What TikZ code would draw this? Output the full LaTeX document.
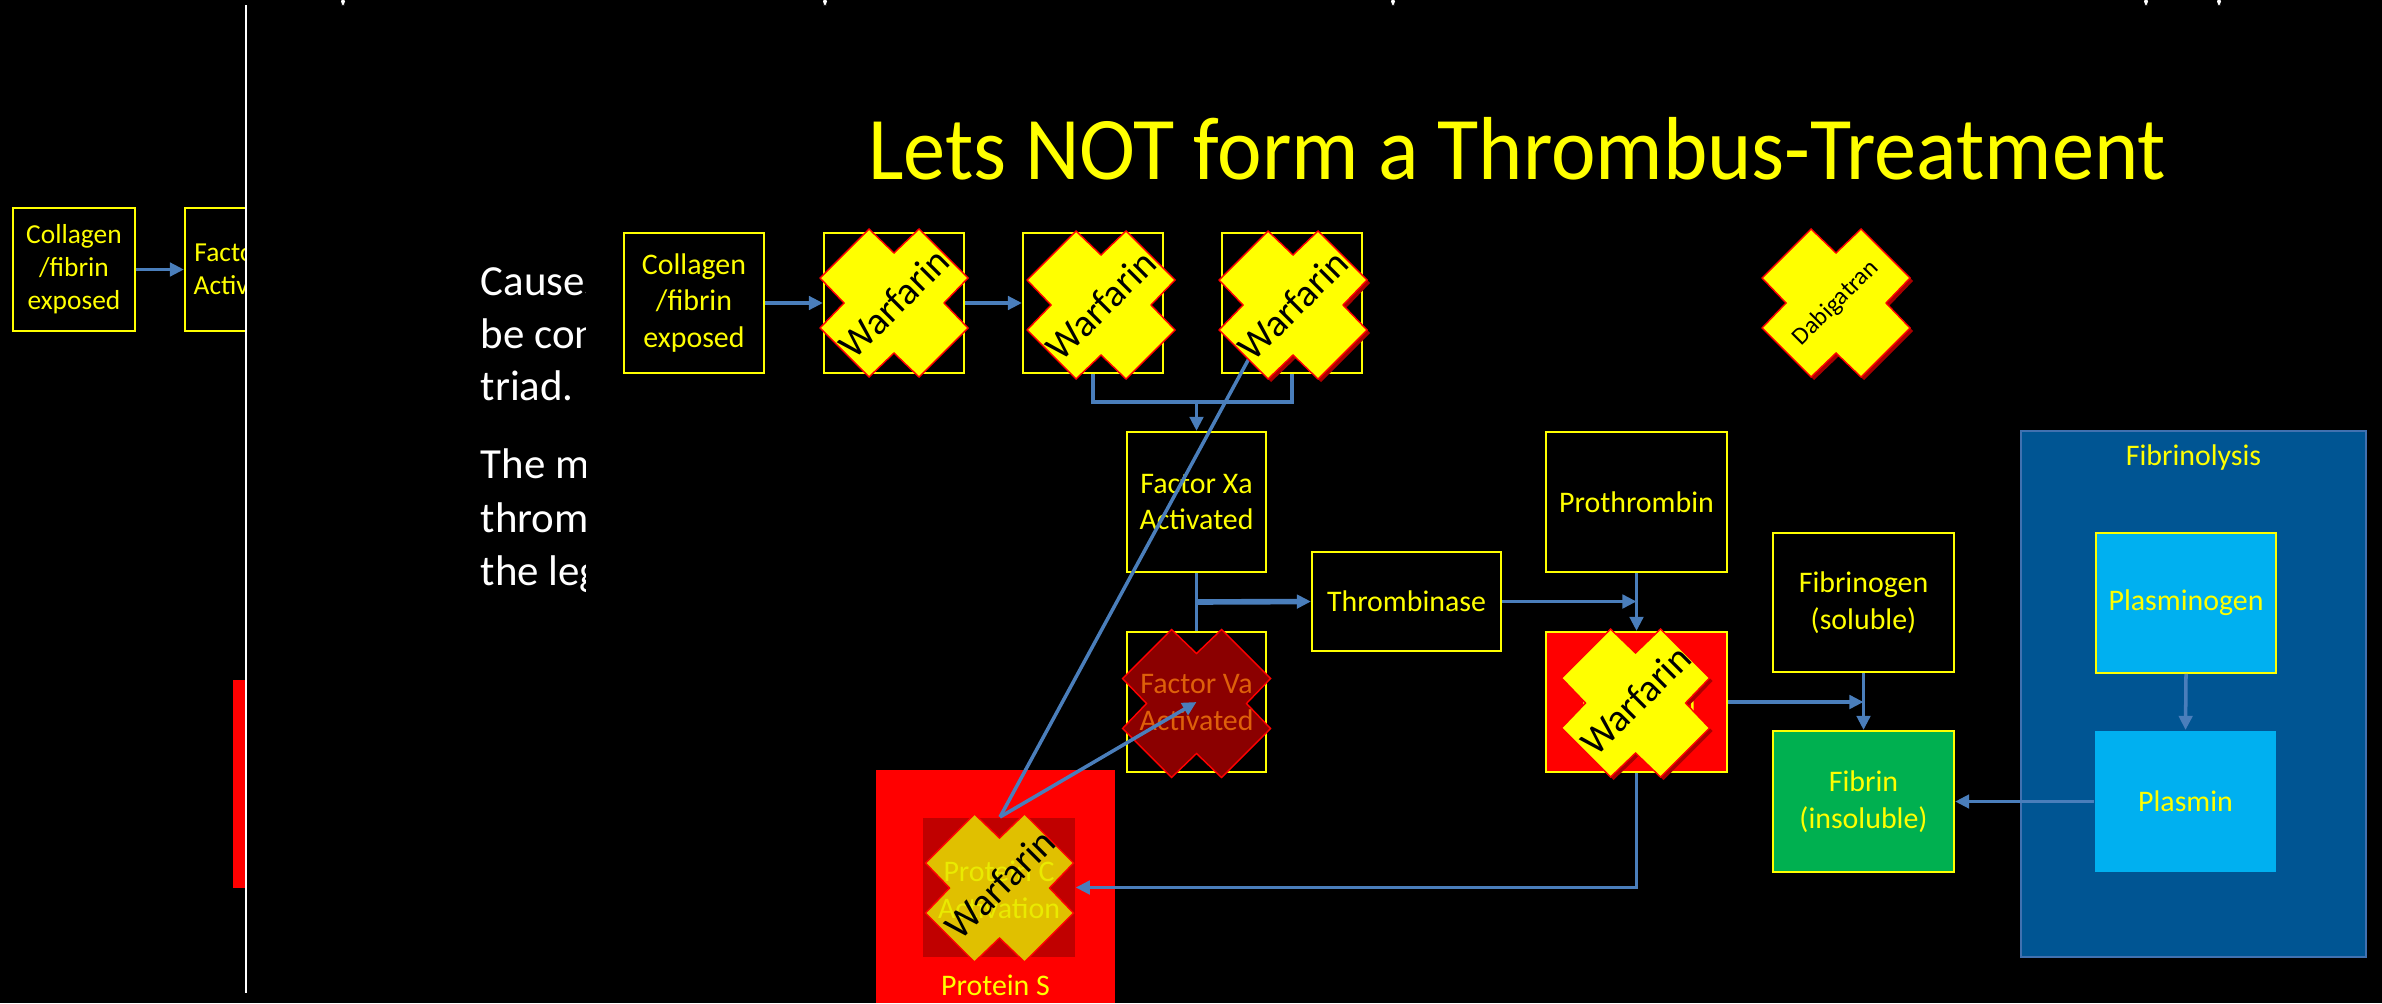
\documentclass[tikz,border=0pt]{standalone}
\usepackage{fontspec}
\setmainfont{Carlito}
\usetikzlibrary{arrows.meta}
\definecolor{cyel}{RGB}{255,255,0}
\definecolor{cblue}{RGB}{74,126,187}
\definecolor{cred}{RGB}{255,0,0}
\definecolor{cdred}{RGB}{139,0,0}
\definecolor{cvtext}{RGB}{222,96,10}
\definecolor{cpc}{RGB}{192,0,0}
\definecolor{cgold}{RGB}{224,192,0}
\definecolor{cpctext}{RGB}{234,234,0}
\definecolor{cgreen}{RGB}{0,176,80}
\definecolor{clblue}{RGB}{0,176,240}
\definecolor{cpanel}{RGB}{0,85,147}
\definecolor{cpanelb}{RGB}{65,113,176}
\definecolor{cshadow}{RGB}{170,0,0}
\begin{document}
\begin{tikzpicture}[x=0.01cm,y=-0.01cm,
  sz/.style 2 args={minimum width=#1*0.01cm,minimum height=#2*0.01cm},
  box/.style={draw=cyel,line width=0.6pt,fill=black,text=cyel,align=center,inner sep=0pt,font=\fontsize{8.5}{10.5}\selectfont},
  lbl/.style={text=cyel,align=center,inner sep=0pt,font=\fontsize{8.5}{10.5}\selectfont},
  side/.style={text=white,anchor=base west,inner sep=0pt,font=\fontsize{12.2}{15}\selectfont},
  conn/.style={draw=cblue,line width=1pt},
  arr/.style={conn,-{Triangle[length=4pt,width=3.8pt]}},
  wtext/.style={rotate=45,text=black,inner sep=0pt,font=\fontsize{11}{13}\selectfont},
  xcross/.pic={\path[pic actions] (-25,-74) -- (0,-50) -- (25,-74) -- (74,-25) -- (50,0) -- (74,25) -- (25,74) -- (0,50) -- (-25,74) -- (-74,25) -- (-50,0) -- (-74,-25) -- cycle;}
]
\fill[black] (0,0) rectangle (2382,1003);
\useasboundingbox (0,0) rectangle (2382,1003);

% ---- previous slide (left strip)
\begin{scope}
  \clip (0,0) rectangle (246,1003);
  \node[box,sz={122}{123},font=\fontsize{7.8}{9.4}\selectfont] (lcol) at (74,269.5) {Collagen\\/fibrin\\exposed};
  \node[box,sz={122}{123},font=\fontsize{7.8}{9.4}\selectfont] (lfac) at (246,269.5) {Factor Xa\\Activated};
  \draw[arr] (lcol.east) -- (lfac.west);
\end{scope}
\fill[cred] (233,680) rectangle (246,888);
\draw[white,line width=0.45pt] (246,5) -- (246,993);
\foreach \xx in {343,825,1393,2146,2219}
  \fill[white,rounded corners=1] (\xx-2,-2) rectangle (\xx+2,5);

% ---- clipped text
\begin{scope}
  \clip (246,0) rectangle (585,1003);
  \node[side] (s1) at (480,295) {Causes};
  \node[side] (s2) at (480,348) {be cons};
  \node[side] (s3) at (480,400) {triad.};
  \node[side] (s4) at (480,478) {The mo};
  \node[side] (s5) at (480,532) {thromb};
  \node[side] (s6) at (480,585) {the leg};
\end{scope}

% ---- title
\node[anchor=base,text=cyel,inner sep=0pt,font=\fontsize{24}{28}\selectfont,yscale=1.06] (title) at (1517,179) {Lets NOT form a Thrombus-Treatment};

% ---- boxes
\node[box,sz={140}{140}] (col) at (694,303) {Collagen\\/fibrin\\exposed};
\node[box,sz={140}{140}] (b1) at (894,303) {};
\node[box,sz={140}{140}] (b2) at (1093,303) {};
\node[box,sz={140}{140}] (b3) at (1292,303) {};
\node[box,sz={139}{140}] (xa) at (1196.5,502) {Factor Xa\\Activated};
\node[box,sz={139}{140}] (va) at (1196.5,702) {};
\node[box,sz={189}{99}] (tase) at (1406.5,601.5) {Thrombinase};
\node[box,sz={181}{140}] (proth) at (1636.5,502) {Prothrombin};
\node[box,sz={181}{140},fill=cred] (thr) at (1636.5,702) {Thrombin};
\node[box,sz={181}{139}] (fgen) at (1863.5,602.5) {Fibrinogen\\(soluble)};
\node[box,sz={181}{141},fill=cgreen] (fib) at (1863.5,801.5) {Fibrin\\(insoluble)};

% fibrinolysis panel
\node[draw=cpanelb,fill=cpanel,line width=0.5pt,sz={345}{526}] (panel) at (2193.5,694) {};
\node[lbl] (fltxt) at (2193.5,458) {Fibrinolysis};
\node[box,sz={180}{140},fill=clblue,line width=0.5pt] (plg) at (2186,603) {Plasminogen};
\node[box,sz={181}{141},fill=clblue,draw=none] (pl) at (2185.5,801.5) {Plasmin};

% protein S / C
\node[fill=cred,inner sep=0pt,sz={239}{233}] (ps) at (995.5,886.5) {};
\node[lbl] (pstxt) at (995.5,985) {Protein S};
\node[fill=cpc,inner sep=0pt,sz={152}{139}] (pc) at (999,887.5) {};
\coordinate (pctop) at (1000,817);

% ---- connectors
\draw[arr] (col.east) -- (b1.west);
\draw[arr] (b1.east) -- (b2.west);
\draw[conn] (b2.south) -- (1093,402) -- (1292,402) -- (b3.south);
\draw[arr] (1196.5,402) -- (xa.north);
\draw[conn] (xa.south) -- (va.north);
\draw[conn,line width=1.6pt,-{Triangle[length=4pt,width=3.8pt]}] (1196.5,602) -- (tase.west);
\draw[arr] (tase.east) -- (tase.east -| proth.south);
\draw[arr] (proth.south) -- (thr.north);
\draw[arr] (thr.east) -- (thr.east -| fgen.south);
\draw[arr] (fgen.south) -- (fib.north);
\draw[arr] (plg.south) -- (pl.north);
\draw[arr] (pl.west) -- (fib.east);
\draw[arr] (thr.south) |- (pc.east);

% ---- factor Va (crossed out)
\coordinate (cva) at (1196.5,703.5);
\pic[fill=cdred,draw=cred,line width=0.4pt] at (cva) {xcross};
\node[lbl,text=cvtext] (vatxt) at (1196.5,702.5) {Factor Va\\Activated};

% ---- thrombin warfarin
\coordinate (cth) at (1635.5,703);
\pic[fill=cshadow] at (1638.5,706) {xcross};
\pic[fill=cyel,draw=cred,line width=0.4pt] at (cth) {xcross};
\node[wtext] (wth) at (1635.5,700) {Warfarin};

% ---- protein C warfarin
\coordinate (cpcx) at (999.5,888);
\pic[fill=cgold,draw=cred,line width=0.4pt] at (cpcx) {xcross};
\node[lbl,text=cpctext] (pctxt) at (999,889.5) {Protein C\\Activation};
\node[wtext] (wpc) at (1000,884) {Warfarin};

% ---- protein C lines
\coordinate (w3tail) at (1278,305);
\draw[conn] (pctop) -- (w3tail);
\draw[arr] (pctop) -- (va.center);

% ---- warfarin crosses top row
\coordinate (w1) at (894,303);
\coordinate (w2) at (1101,305);
\coordinate (w3) at (1293,305);
\pic[fill=cyel,draw=cred,line width=0.4pt] at (w1) {xcross};
\node[wtext] (w1t) at (w1) {Warfarin};
\pic[fill=cyel,draw=cred,line width=0.4pt] at (w2) {xcross};
\node[wtext] (w2t) at (w2) {Warfarin};
\pic[fill=cshadow] at (1296,308) {xcross};
\pic[fill=cyel,draw=cred,line width=0.4pt] at (w3) {xcross};
\node[wtext] (w3t) at (w3) {Warfarin};

% ---- dabigatran
\coordinate (dab) at (1836,303);
\pic[fill=cshadow] at (1839,306) {xcross};
\pic[fill=cyel,draw=cred,line width=0.4pt] at (dab) {xcross};
\node[wtext,font=\fontsize{7}{8.5}\selectfont] (dabt) at (dab) {Dabigatran};
\end{tikzpicture}
\end{document}
